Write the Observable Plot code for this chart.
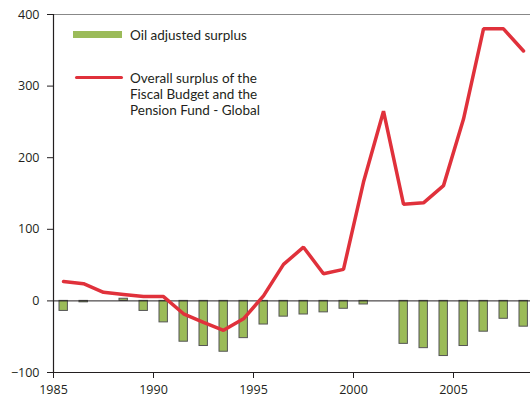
<!DOCTYPE html>
<html><head><meta charset="utf-8">
<script src="https://cdn.jsdelivr.net/npm/d3@7"></script>
<script src="https://cdn.jsdelivr.net/npm/@observablehq/plot@0.6"></script>
<style>
body{margin:0;background:#fff;font-family:"Open Sans",sans-serif;}
#wrap{position:relative;width:530px;height:403px;}
.lg{position:absolute;font-family:Lato,sans-serif;font-size:13.5px;color:#231f20;line-height:16px;height:16px;white-space:nowrap;}
</style></head><body>
<div id="wrap"></div>
<script>
const years = [1985,1986,1987,1988,1989,1990,1991,1992,1993,1994,1995,1996,1997,1998,1999,2000,2001,2002,2003,2004,2005,2006,2007,2008];
const oilAdjusted = [-14,-2,0,3,-14,-30,-57,-63,-71,-52,-33,-22,-19,-16,-11,-5,0,-60,-66,-77,-63,-43,-25,-36];
const overall = [27,24,12,9,6,6,-18,-30,-41,-25,7,51,75,38,44,166,265,135,137,161,254,380,380,349];
const xTicks = [1985,1990,1995,2000,2005];
const yTicks = [-100,0,100,200,300,400];
const legendOil = "Oil adjusted surplus";
const legendOverall = ["Overall surplus of the","Fiscal Budget and the","Pension Fund - Global"];

const data = years.map((y,i)=>({year:y, oil:oilAdjusted[i], total:overall[i]}));

const chart = Plot.plot({
  width:530, height:403,
  marginLeft:53, marginRight:0, marginTop:14, marginBottom:31,
  style:{fontFamily:"Open Sans, sans-serif", fontSize:"12px", color:"#231f20"},
  x:{domain:[1985,2008.85]},
  y:{domain:[-100,400]},
  marks:[
    Plot.ruleY([400],{stroke:"#888",strokeWidth:1.2}),
    Plot.rectY(data.filter(d=>d.oil!==0),{x1:d=>d.year+0.3,x2:d=>d.year+0.72,y1:0,y2:"oil",fill:"#9bbb59",stroke:"#555",strokeWidth:1}),
    Plot.ruleY([0],{stroke:"#231f20",strokeWidth:1}),
    Plot.line(data,{x:d=>d.year+0.5,y:"total",stroke:"#e0313b",strokeWidth:3.5,strokeLinejoin:"miter"}),
    Plot.ruleX([1985],{stroke:"#231f20",strokeWidth:1.2}),
    Plot.ruleY([-100],{stroke:"#231f20",strokeWidth:1.2}),
    Plot.axisX({ticks:xTicks,tickFormat:d=>String(d),tickSize:6,tickPadding:7,stroke:"#231f20",fill:"#231f20",fontSize:12.5}),
    Plot.axisY({ticks:yTicks,tickSize:6,tickPadding:8,stroke:"#231f20",fill:"#231f20",fontSize:12.5,label:null})
  ]
});
const wrap = document.getElementById("wrap");
wrap.appendChild(chart);
wrap.insertAdjacentHTML("beforeend",
 `<div style="position:absolute;left:73px;top:31px;width:49px;height:7px;background:#9bbb59"></div>
  <div class="lg" style="left:130px;top:27px">${legendOil}</div>
  <div style="position:absolute;left:75px;top:76px;width:48px;height:3px;background:#e0313b;border-radius:2px"></div>` +
  legendOverall.map((t,i)=>`<div class="lg" style="left:130px;top:${70+i*16}px">${t}</div>`).join(""));
</script>
</body></html>
